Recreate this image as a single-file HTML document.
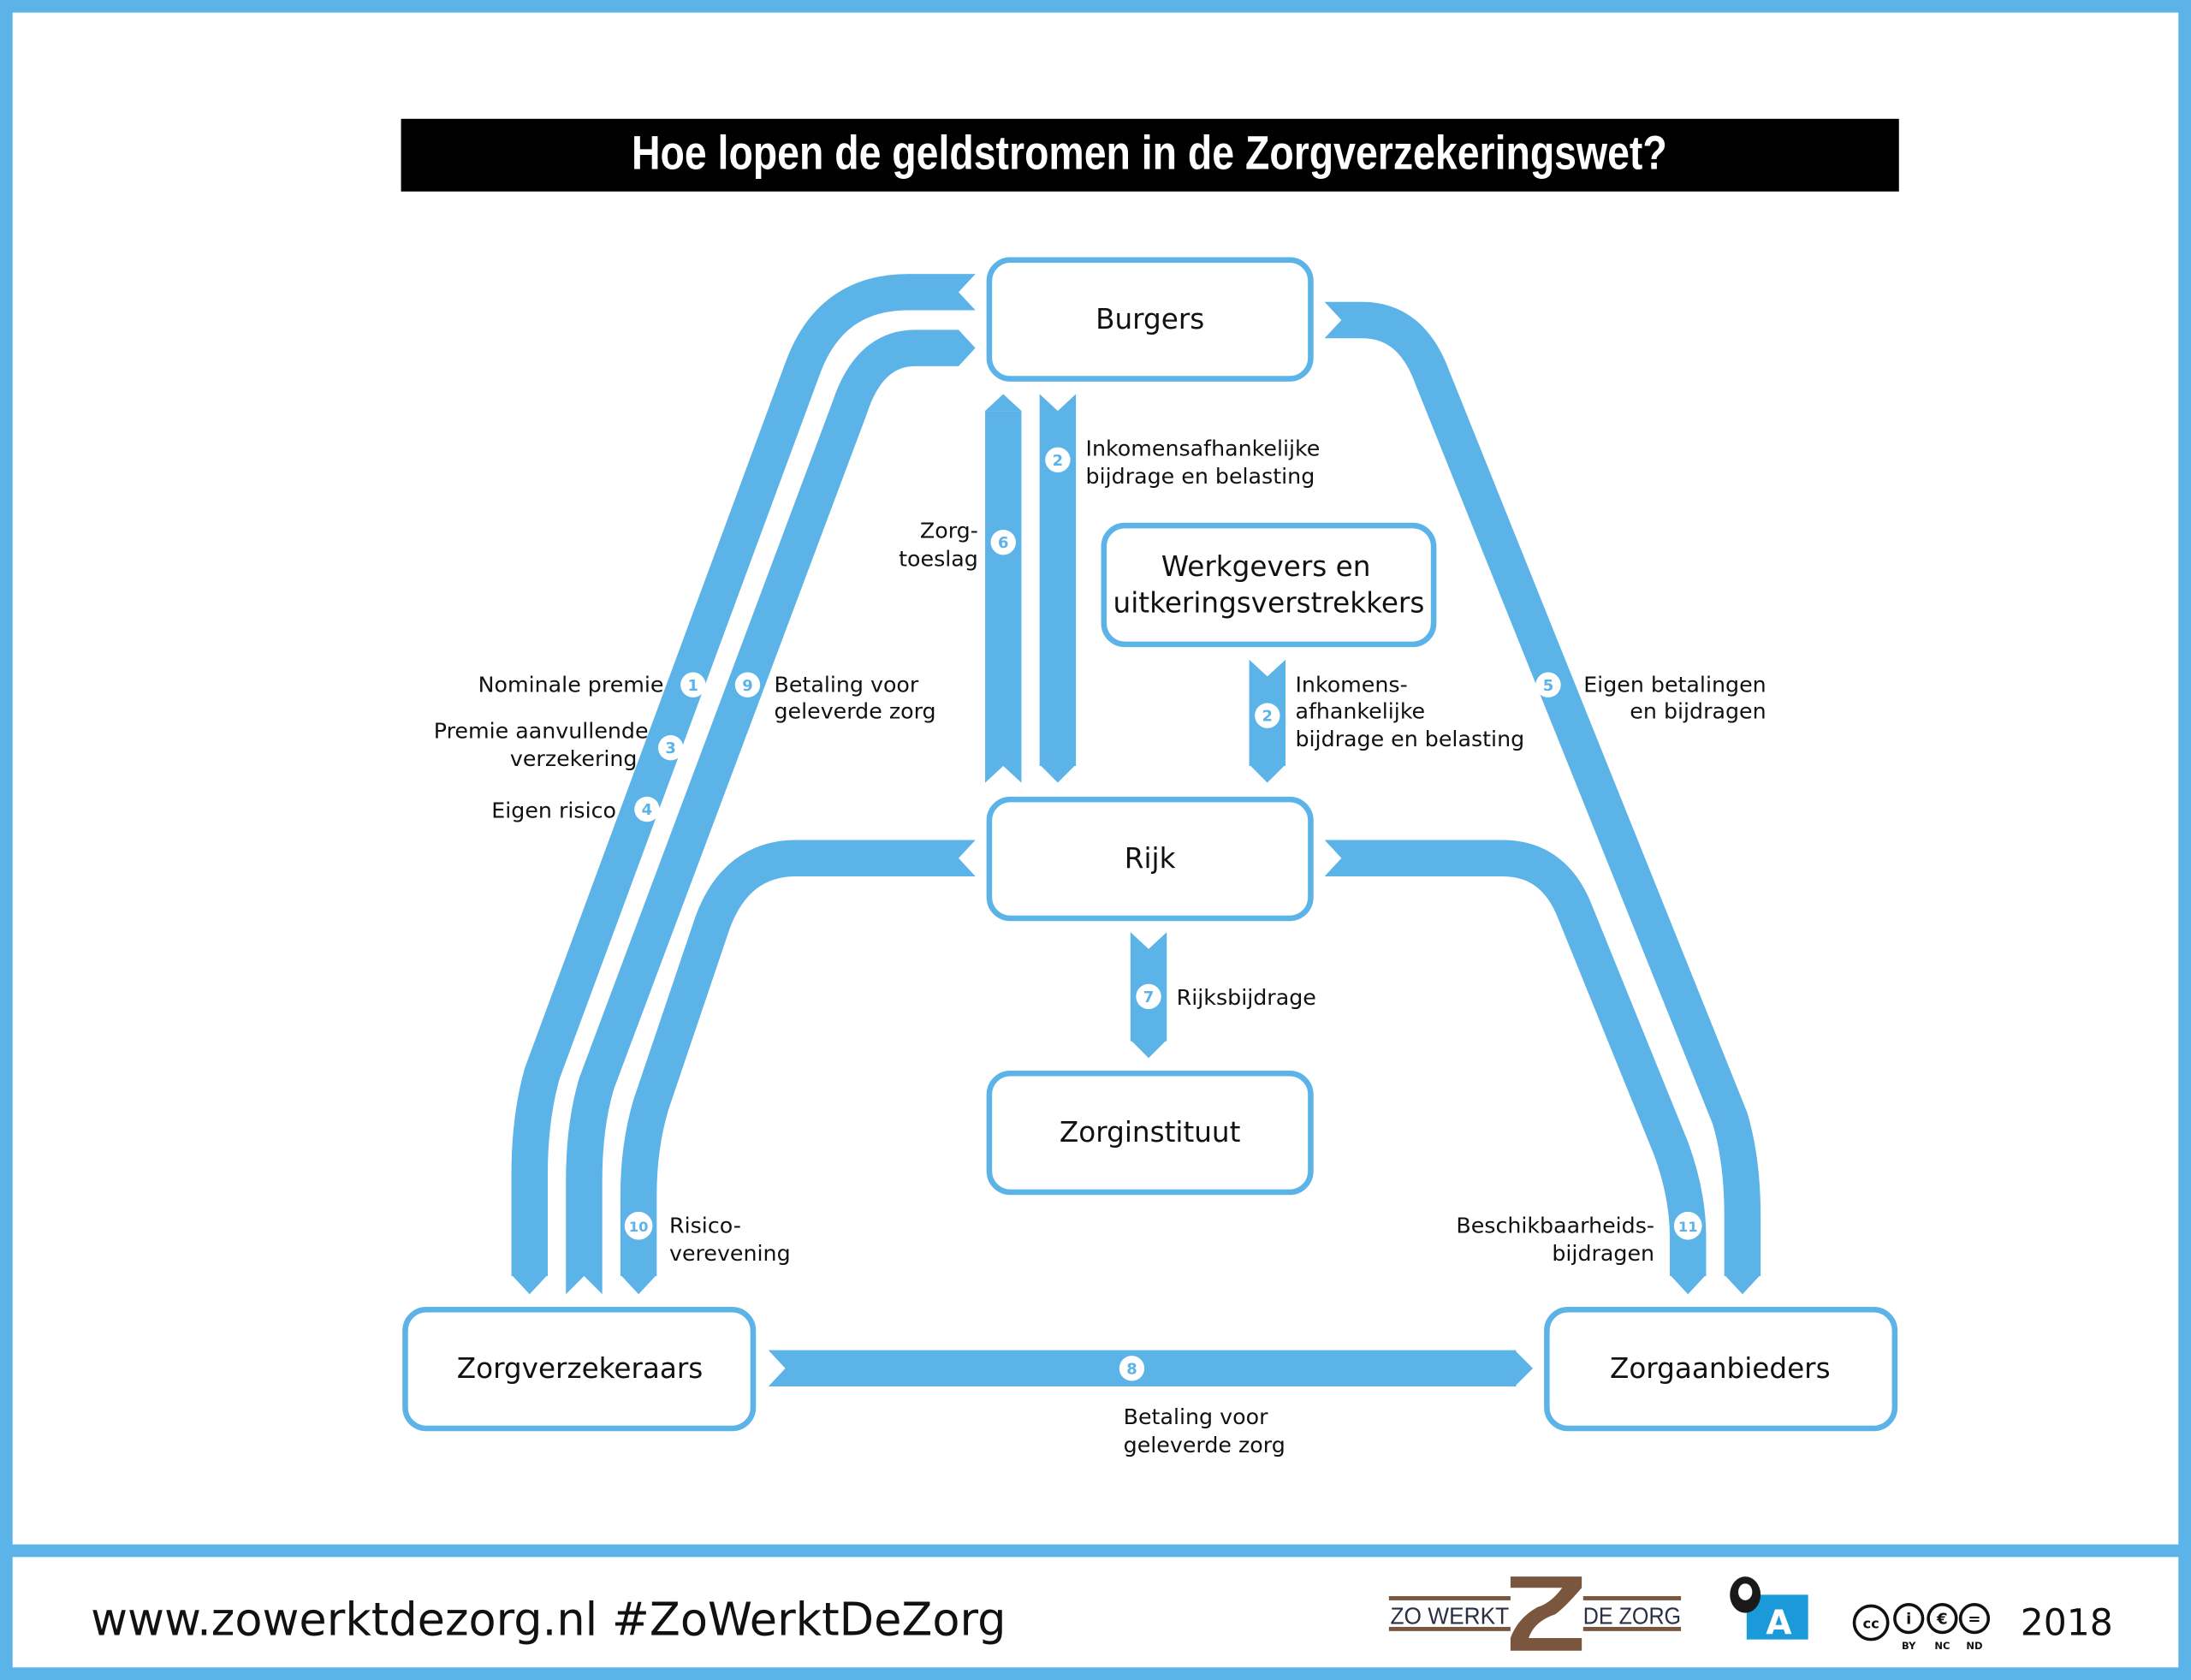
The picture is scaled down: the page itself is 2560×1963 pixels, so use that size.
<!DOCTYPE html>
<html><head><meta charset="utf-8"><style>
html,body{margin:0;padding:0;background:#fff}
svg{display:block}
text{font-family:"DejaVu Sans","Liberation Sans",sans-serif}
</style></head><body>
<svg width="2560" height="1963" viewBox="0 0 1568 1202" preserveAspectRatio="none" xmlns="http://www.w3.org/2000/svg">
<rect x="0" y="0" width="1568" height="1202" fill="#5cb3e8"/>
<rect x="9" y="9" width="1550" height="1096" fill="#fff"/>
<rect x="9" y="1114" width="1550" height="79" fill="#fff"/>

<rect x="287" y="85" width="1072" height="52" fill="#000"/>
<text x="452" y="121" textLength="741" lengthAdjust="spacingAndGlyphs" fill="#fff" font-size="34" font-weight="bold" style="font-family:'Liberation Sans Narrow','Liberation Sans',sans-serif">Hoe lopen de geldstromen in de Zorgverzekeringswet?</text>

<g fill="none" stroke="#5cb3e8" stroke-width="26" stroke-linejoin="round">
<path d="M698,209 L650,209 Q595,209 575,262 L388,768 Q379,800 379,840 L379,913"/>
<path d="M686,249 L655,249 Q622,249 608,292 L427,775 Q418,805 418,845 L418,926"/>
<path d="M698,614 L570,614 Q527,614 510,660 L466,790 Q457,820 457,855 L457,913"/>
<path d="M948,229 L975,229 Q1010,229 1025,270 L1238,800 Q1247,830 1247,870 L1247,913"/>
<path d="M948,614 L1075,614 Q1112,614 1127,652 L1196,822 Q1208,855 1208,885 L1208,913"/>
<path d="M718,294 L718,560"/>
<path d="M757,282 L757,548"/>
<path d="M907,472 L907,548"/>
<path d="M822,667 L822,745"/>
<path d="M550,979 L1085,979"/>
</g>
<g fill="#5cb3e8">
<polygon points="366,912 392,912 379,926"/>
<polygon points="444,912 470,912 457,926"/>
<polygon points="1234,912 1260,912 1247,926"/>
<polygon points="1195,912 1221,912 1208,926"/>
<polygon points="686,236 686,262 698,249"/>
<polygon points="705,294 731,294 718,282"/>
<polygon points="744,547 770,547 757,560"/>
<polygon points="894,547 920,547 907,560"/>
<polygon points="809,744 835,744 822,757"/>
<polygon points="1084,966 1084,992 1097,979"/>
</g>
<g fill="#fff">
<polygon points="699,195 699,223 686,209"/>
<polygon points="404,927 432,927 418,913"/>
<polygon points="699,600 699,628 686,614"/>
<polygon points="947,215 947,243 960,229"/>
<polygon points="947,600 947,628 960,614"/>
<polygon points="704,561 732,561 718,548"/>
<polygon points="743,281 771,281 757,294"/>
<polygon points="893,471 921,471 907,484"/>
<polygon points="808,666 836,666 822,679"/>
<polygon points="549,965 549,993 562,979"/>
</g>

<g fill="#fff" stroke="#5cb3e8" stroke-width="4">
<rect x="708" y="186" width="230" height="85" rx="15"/>
<rect x="790" y="376" width="236" height="85" rx="15"/>
<rect x="708" y="572" width="230" height="85" rx="15"/>
<rect x="708" y="768" width="230" height="85" rx="15"/>
<rect x="290" y="937" width="249" height="85" rx="15"/>
<rect x="1107" y="937" width="249" height="85" rx="15"/>
</g>
<g font-size="20" fill="#111" text-anchor="middle">
<text x="823" y="235">Burgers</text>
<text x="906" y="412">Werkgevers en</text>
<text x="908" y="438">uitkeringsverstrekkers</text>
<text x="823" y="621">Rijk</text>
<text x="823" y="817">Zorginstituut</text>
<text x="415" y="986">Zorgverzekeraars</text>
<text x="1231" y="986">Zorgaanbieders</text>
</g>

<g fill="#fff">
<circle cx="496" cy="490" r="9"/><circle cx="535" cy="490" r="9"/>
<circle cx="480" cy="535" r="9"/><circle cx="463" cy="579" r="9"/>
<circle cx="718" cy="388" r="9"/><circle cx="757" cy="329" r="9"/>
<circle cx="907" cy="512" r="9"/><circle cx="1108" cy="490" r="9"/>
<circle cx="822" cy="713" r="9"/><circle cx="457" cy="877" r="10"/>
<circle cx="1208" cy="877" r="10"/><circle cx="810" cy="979" r="9"/>
</g>
<g fill="#5cb3e8" font-size="11" font-weight="bold" text-anchor="middle">
<text x="496" y="494">1</text><text x="535" y="494">9</text>
<text x="480" y="539">3</text><text x="463" y="583">4</text>
<text x="718" y="392">6</text><text x="757" y="333">2</text>
<text x="907" y="516">2</text><text x="1108" y="494">5</text>
<text x="822" y="717">7</text><text x="457" y="881" font-size="10">10</text>
<text x="1208" y="881" font-size="10">11</text><text x="810" y="983">8</text>
</g>

<g font-size="15.5" fill="#111">
<text x="777" y="326">Inkomensafhankelijke</text>
<text x="777" y="346">bijdrage en belasting</text>
<text x="700" y="385" text-anchor="end">Zorg-</text>
<text x="700" y="405" text-anchor="end">toeslag</text>
<text x="475" y="495" text-anchor="end">Nominale premie</text>
<text x="464" y="528" text-anchor="end">Premie aanvullende</text>
<text x="456" y="548" text-anchor="end">verzekering</text>
<text x="441" y="585" text-anchor="end">Eigen risico</text>
<text x="554" y="495">Betaling voor</text>
<text x="554" y="514">geleverde zorg</text>
<text x="927" y="495">Inkomens-</text>
<text x="927" y="514">afhankelijke</text>
<text x="927" y="534">bijdrage en belasting</text>
<text x="1264" y="495" text-anchor="end">Eigen betalingen</text>
<text x="1264" y="514" text-anchor="end">en bijdragen</text>
<text x="842" y="719">Rijksbijdrage</text>
<text x="479" y="882">Risico-</text>
<text x="479" y="902">verevening</text>
<text x="1184" y="882" text-anchor="end">Beschikbaarheids-</text>
<text x="1184" y="902" text-anchor="end">bijdragen</text>
<text x="804" y="1019">Betaling voor</text>
<text x="804" y="1039">geleverde zorg</text>
</g>

<text x="65" y="1170" font-size="33" fill="#111" textLength="655" lengthAdjust="spacingAndGlyphs">www.zowerktdezorg.nl  #ZoWerktDeZorg</text>

<g>
<rect x="994" y="1142" width="87" height="3" fill="#7b563f"/>
<rect x="994" y="1164" width="87" height="3" fill="#7b563f"/>
<rect x="1133" y="1142" width="70" height="3" fill="#7b563f"/>
<rect x="1133" y="1164" width="70" height="3" fill="#7b563f"/>
<text x="995" y="1162" font-size="17" fill="#2a2f45" textLength="85" lengthAdjust="spacingAndGlyphs" style="font-family:'Liberation Sans Narrow','Liberation Sans',sans-serif">ZO WERKT</text>
<text x="1133" y="1162" font-size="17" fill="#2a2f45" textLength="70" lengthAdjust="spacingAndGlyphs" style="font-family:'Liberation Sans Narrow','Liberation Sans',sans-serif">DE ZORG</text>
<path d="M1081,1128 L1132,1128 L1132,1136 Q1120,1150 1113,1155 Q1098,1160 1094,1172 L1132,1172 L1132,1181 L1081,1181 L1081,1172 Q1086,1158 1100,1150 Q1110,1147 1118,1136 L1081,1136 Z" fill="#7b563f"/>
</g>
<rect x="1250" y="1141" width="44" height="32" fill="#1a9ad9"/>
<text x="1273" y="1169" font-size="24" font-weight="bold" fill="#fff" text-anchor="middle">A</text>
<ellipse cx="1249" cy="1141" rx="11" ry="13" fill="#1a1a1a"/>
<ellipse cx="1249" cy="1139" rx="5" ry="6" fill="#fff"/>
<g fill="none" stroke="#111" stroke-width="2.2">
<circle cx="1339" cy="1161" r="12"/><circle cx="1366" cy="1158" r="10"/>
<circle cx="1390" cy="1158" r="10"/><circle cx="1413" cy="1158" r="10"/>
</g>
<text x="1339" y="1165" font-size="10" font-weight="bold" text-anchor="middle" fill="#111">cc</text>
<text x="1366" y="1162" font-size="11" font-weight="bold" text-anchor="middle" fill="#111">i</text>
<text x="1390" y="1162" font-size="11" font-weight="bold" text-anchor="middle" fill="#111">€</text>
<text x="1413" y="1162" font-size="11" font-weight="bold" text-anchor="middle" fill="#111">=</text>
<g font-size="7" font-weight="bold" fill="#111" text-anchor="middle">
<text x="1366" y="1180">BY</text><text x="1390" y="1180">NC</text><text x="1413" y="1180">ND</text>
</g>
<text x="1446" y="1170" font-size="26" fill="#111">2018</text>
</svg>
</body></html>
